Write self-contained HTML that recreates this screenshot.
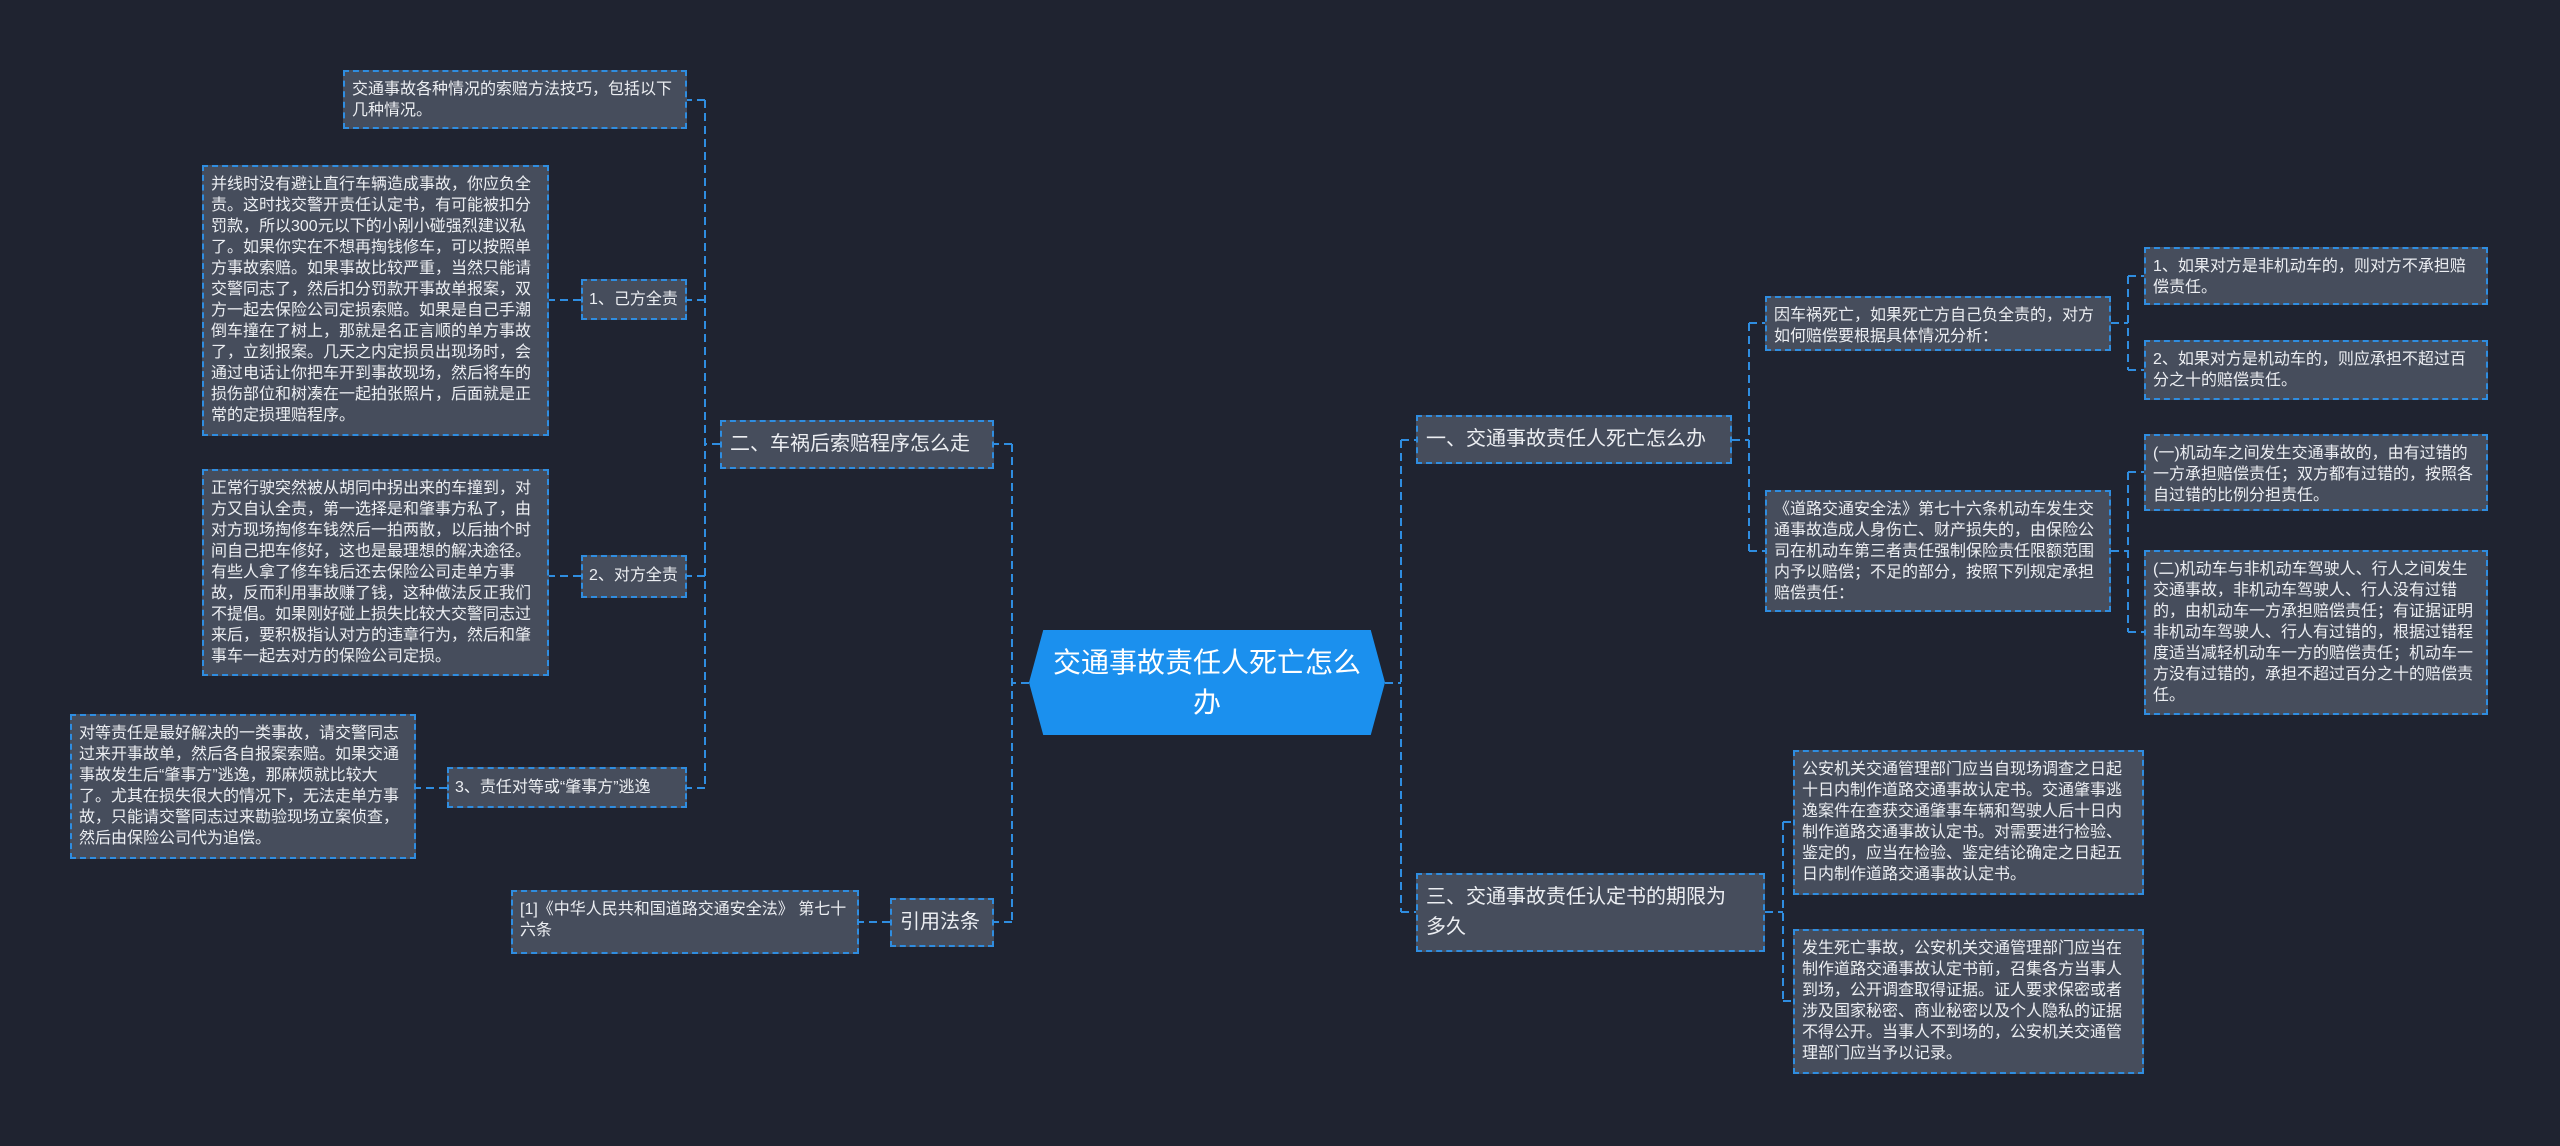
<!DOCTYPE html>
<html><head><meta charset="utf-8"><style>
html,body{margin:0;padding:0;}
body{width:2560px;height:1146px;background:#1f2330;position:relative;overflow:hidden;font-family:"Liberation Sans","Noto Sans CJK SC",sans-serif;}
.b{position:absolute;box-sizing:border-box;background:#464d5c;border:2px dashed #2f8de0;color:#eceef2;font-size:16px;line-height:21px;padding:7px 6px 7px 7px;}
.l1{font-size:20px;line-height:30px;padding:7px 8px;white-space:nowrap;}
.l1.w{white-space:normal;padding-right:34px;}
.l2{font-size:16px;line-height:24px;padding:7px 6px;white-space:nowrap;}
svg{position:absolute;left:0;top:0;}
.c{position:absolute;left:1029px;top:630px;width:356px;height:105px;background:#1b90ee;clip-path:polygon(4% 0,96% 0,100% 50%,96% 100%,4% 100%,0 50%);color:#fff;font-size:28px;line-height:40px;text-align:center;display:flex;align-items:center;justify-content:center;padding:0 16px;box-sizing:border-box;}
</style></head><body>
<svg width="2560" height="1146" fill="none" stroke="#2f8de0" stroke-width="2" stroke-dasharray="8 5">
<path d="M1029 683H1012M1012 444V922M1012 444H994M1012 922H994"/>
<path d="M720 444H705M705 100V788M705 100H687M705 300H687M705 576H687M705 788H687"/>
<path d="M581 300H549M581 576H549M447 788H416M890 922H859"/>
<path d="M1385 683H1401M1401 440V912M1401 440H1416M1401 912H1416"/>
<path d="M1732 440H1749M1749 323V551M1749 323H1765M1749 551H1765"/>
<path d="M2111 323H2128M2128 276V370M2128 276H2144M2128 370H2144"/>
<path d="M2111 551H2128M2128 472V632M2128 472H2144M2128 632H2144"/>
<path d="M1765 912H1783M1783 822V1001M1783 822H1793M1783 1001H1793"/>
</svg>
<div class="c">交通事故责任人死亡怎么办</div>

<div class="b l1" style="left:720px;top:420px;width:274px;height:49px;">二、车祸后索赔程序怎么走</div>
<div class="b l1" style="left:890px;top:898px;width:104px;height:49px;">引用法条</div>
<div class="b" style="left:343px;top:70px;width:344px;height:59px;">交通事故各种情况的索赔方法技巧，包括以下几种情况。</div>
<div class="b l2" style="left:581px;top:279px;width:106px;height:41px;">1、己方全责</div>
<div class="b l2" style="left:581px;top:555px;width:106px;height:43px;">2、对方全责</div>
<div class="b l2" style="left:447px;top:767px;width:240px;height:41px;">3、责任对等或“肇事方”逃逸</div>
<div class="b" style="left:202px;top:165px;width:347px;height:271px;">并线时没有避让直行车辆造成事故，你应负全责。这时找交警开责任认定书，有可能被扣分罚款，所以300元以下的小剐小碰强烈建议私了。如果你实在不想再掏钱修车，可以按照单方事故索赔。如果事故比较严重，当然只能请交警同志了，然后扣分罚款开事故单报案，双方一起去保险公司定损索赔。如果是自己手潮倒车撞在了树上，那就是名正言顺的单方事故了，立刻报案。几天之内定损员出现场时，会通过电话让你把车开到事故现场，然后将车的损伤部位和树凑在一起拍张照片，后面就是正常的定损理赔程序。</div>
<div class="b" style="left:202px;top:469px;width:347px;height:207px;">正常行驶突然被从胡同中拐出来的车撞到，对方又自认全责，第一选择是和肇事方私了，由对方现场掏修车钱然后一拍两散，以后抽个时间自己把车修好，这也是最理想的解决途径。有些人拿了修车钱后还去保险公司走单方事故，反而利用事故赚了钱，这种做法反正我们不提倡。如果刚好碰上损失比较大交警同志过来后，要积极指认对方的违章行为，然后和肇事车一起去对方的保险公司定损。</div>
<div class="b" style="left:70px;top:714px;width:346px;height:145px;">对等责任是最好解决的一类事故，请交警同志过来开事故单，然后各自报案索赔。如果交通事故发生后“肇事方”逃逸，那麻烦就比较大了。尤其在损失很大的情况下，无法走单方事故，只能请交警同志过来勘验现场立案侦查，然后由保险公司代为追偿。</div>
<div class="b" style="left:511px;top:890px;width:348px;height:64px;">[1]《中华人民共和国道路交通安全法》 第七十六条</div>

<div class="b l1" style="left:1416px;top:415px;width:316px;height:49px;">一、交通事故责任人死亡怎么办</div>
<div class="b l1 w" style="left:1416px;top:873px;width:349px;height:79px;">三、交通事故责任认定书的期限为多久</div>
<div class="b" style="left:1765px;top:296px;width:346px;height:55px;">因车祸死亡，如果死亡方自己负全责的，对方如何赔偿要根据具体情况分析：</div>
<div class="b" style="left:1765px;top:490px;width:346px;height:122px;">《道路交通安全法》第七十六条机动车发生交通事故造成人身伤亡、财产损失的，由保险公司在机动车第三者责任强制保险责任限额范围内予以赔偿；不足的部分，按照下列规定承担赔偿责任：</div>
<div class="b" style="left:2144px;top:247px;width:344px;height:58px;">1、如果对方是非机动车的，则对方不承担赔偿责任。</div>
<div class="b" style="left:2144px;top:340px;width:344px;height:60px;">2、如果对方是机动车的，则应承担不超过百分之十的赔偿责任。</div>
<div class="b" style="left:2144px;top:434px;width:344px;height:77px;">(一)机动车之间发生交通事故的，由有过错的一方承担赔偿责任；双方都有过错的，按照各自过错的比例分担责任。</div>
<div class="b" style="left:2144px;top:550px;width:344px;height:165px;">(二)机动车与非机动车驾驶人、行人之间发生交通事故，非机动车驾驶人、行人没有过错的，由机动车一方承担赔偿责任；有证据证明非机动车驾驶人、行人有过错的，根据过错程度适当减轻机动车一方的赔偿责任；机动车一方没有过错的，承担不超过百分之十的赔偿责任。</div>
<div class="b" style="left:1793px;top:750px;width:351px;height:145px;">公安机关交通管理部门应当自现场调查之日起十日内制作道路交通事故认定书。交通肇事逃逸案件在查获交通肇事车辆和驾驶人后十日内制作道路交通事故认定书。对需要进行检验、鉴定的，应当在检验、鉴定结论确定之日起五日内制作道路交通事故认定书。</div>
<div class="b" style="left:1793px;top:929px;width:351px;height:145px;">发生死亡事故，公安机关交通管理部门应当在制作道路交通事故认定书前，召集各方当事人到场，公开调查取得证据。证人要求保密或者涉及国家秘密、商业秘密以及个人隐私的证据不得公开。当事人不到场的，公安机关交通管理部门应当予以记录。</div>
</body></html>
